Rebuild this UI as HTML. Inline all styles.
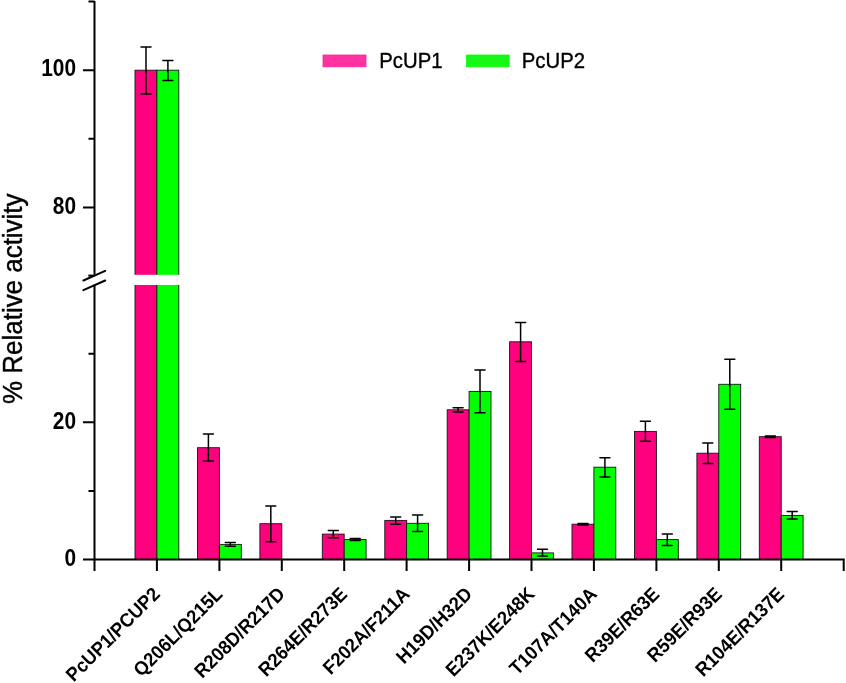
<!DOCTYPE html>
<html lang="en"><head><meta charset="utf-8"><title>Relative activity</title>
<style>html,body{margin:0;padding:0;background:#fff;}body{width:846px;height:683px;overflow:hidden;}svg{display:block;}text{font-family:"Liberation Sans",Arial,sans-serif;fill:#000;}.b{font-weight:bold;}</style>
</head><body>
<svg width="846" height="683" viewBox="0 0 846 683">
<rect width="846" height="683" fill="#fff"/>
<g stroke="#151515" stroke-width="0.9">
<rect x="135.0" y="70.2" width="21.9" height="489.3" fill="#ff007f"/>
<rect x="156.9" y="70.2" width="21.9" height="489.3" fill="#00ff00"/>
<rect x="197.5" y="447.7" width="21.9" height="111.8" fill="#ff007f"/>
<rect x="219.4" y="544.4" width="21.9" height="15.1" fill="#00ff00"/>
<rect x="259.9" y="523.7" width="21.9" height="35.8" fill="#ff007f"/>
<rect x="322.3" y="534.1" width="21.9" height="25.4" fill="#ff007f"/>
<rect x="344.2" y="539.6" width="21.9" height="19.9" fill="#00ff00"/>
<rect x="384.8" y="520.4" width="21.9" height="39.1" fill="#ff007f"/>
<rect x="406.6" y="523.3" width="21.9" height="36.2" fill="#00ff00"/>
<rect x="447.2" y="409.8" width="21.9" height="149.7" fill="#ff007f"/>
<rect x="469.1" y="391.4" width="21.9" height="168.1" fill="#00ff00"/>
<rect x="509.6" y="341.8" width="21.9" height="217.7" fill="#ff007f"/>
<rect x="531.5" y="552.9" width="21.9" height="6.6" fill="#00ff00"/>
<rect x="572.0" y="524.2" width="21.9" height="35.3" fill="#ff007f"/>
<rect x="593.9" y="467.2" width="21.9" height="92.3" fill="#00ff00"/>
<rect x="634.5" y="431.4" width="21.9" height="128.1" fill="#ff007f"/>
<rect x="656.4" y="539.6" width="21.9" height="19.9" fill="#00ff00"/>
<rect x="696.9" y="453.2" width="21.9" height="106.3" fill="#ff007f"/>
<rect x="718.8" y="384.3" width="21.9" height="175.2" fill="#00ff00"/>
<rect x="759.3" y="436.7" width="21.9" height="122.8" fill="#ff007f"/>
<rect x="781.2" y="515.4" width="21.9" height="44.1" fill="#00ff00"/>
</g>
<rect x="130" y="274.8" width="55" height="10.2" fill="#fff"/>
<g stroke="#000" stroke-width="1.5" fill="none" stroke-linecap="round">
<path d="M141.0 46.9H151.0M141.0 93.9H151.0M146.0 46.9V93.9"/>
<path d="M162.9 60.6H172.9M162.9 80.4H172.9M167.9 60.6V80.4"/>
<path d="M203.4 434.0H213.4M203.4 460.9H213.4M208.4 434.0V460.9"/>
<path d="M225.3 542.6H235.3M225.3 546.2H235.3M230.3 542.6V546.2"/>
<path d="M265.8 506.0H275.8M265.8 541.7H275.8M270.8 506.0V541.7"/>
<path d="M328.3 530.6H338.3M328.3 537.7H338.3M333.3 530.6V537.7"/>
<path d="M350.2 538.6H360.2M350.2 540.5H360.2M355.2 538.6V540.5"/>
<path d="M390.7 516.9H400.7M390.7 524.2H400.7M395.7 516.9V524.2"/>
<path d="M412.6 515.0H422.6M412.6 531.5H422.6M417.6 515.0V531.5"/>
<path d="M453.1 407.8H463.1M453.1 411.9H463.1M458.1 407.8V411.9"/>
<path d="M475.0 370.1H485.0M475.0 412.7H485.0M480.0 370.1V412.7"/>
<path d="M515.6 322.5H525.6M515.6 361.5H525.6M520.6 322.5V361.5"/>
<path d="M537.5 549.2H547.5M537.5 556.1H547.5M542.5 549.2V556.1"/>
<path d="M578.0 523.4H588.0M578.0 525.0H588.0M583.0 523.4V525.0"/>
<path d="M599.9 457.8H609.9M599.9 477.0H609.9M604.9 457.8V477.0"/>
<path d="M640.4 421.2H650.4M640.4 441.2H650.4M645.4 421.2V441.2"/>
<path d="M662.3 534.0H672.3M662.3 545.6H672.3M667.3 534.0V545.6"/>
<path d="M702.8 443.0H712.8M702.8 463.4H712.8M707.8 443.0V463.4"/>
<path d="M724.8 359.3H734.8M724.8 409.2H734.8M729.8 359.3V409.2"/>
<path d="M765.3 436.1H775.3M765.3 437.4H775.3M770.3 436.1V437.4"/>
<path d="M787.2 511.5H797.2M787.2 518.9H797.2M792.2 511.5V518.9"/>
</g>
<g stroke="#000" stroke-width="2" fill="none">
<path d="M94.5 1V274.6M94.5 285.2V560.5"/>
<path d="M83 559.5H844.7"/>
<path d="M83 70.2H94.5M83 207.4H94.5M83 422.3H94.5"/>
<path d="M88.5 1.6H94.5M88.5 138.8H94.5M88.5 490.9H94.5M88.5 353.7H94.5"/>
<path d="M94.5 559.5V571.1M156.9 559.5V571.1M219.4 559.5V571.1M281.8 559.5V571.1M344.2 559.5V571.1M406.6 559.5V571.1M469.1 559.5V571.1M531.5 559.5V571.1M593.9 559.5V571.1M656.4 559.5V571.1M718.8 559.5V571.1M781.2 559.5V571.1M843.7 559.5V571.1"/>
<path stroke-linecap="round" d="M83.4 280.5L105.2 270.9M83.4 290.2L105.2 280.5"/>
<path d="M88.3 275.6H94.5"/>
</g>
<g class="b" font-size="20.9" text-anchor="end">
<text transform="translate(76.1 76.4) scale(1 1.12)">100</text>
<text transform="translate(76.1 213.6) scale(1 1.12)">80</text>
<text transform="translate(76.1 428.5) scale(1 1.12)">20</text>
<text transform="translate(76.1 565.7) scale(1 1.12)">0</text>
</g>
<text font-size="27.1" text-anchor="middle" transform="translate(22.1 298.7) rotate(-90) scale(0.958 1)" stroke="#000" stroke-width="0.4">% Relative activity</text>
<rect x="323" y="55" width="43" height="11.8" fill="#ff339f" stroke="#ff2294" stroke-width="0.8"/>
<rect x="466.5" y="55" width="42.7" height="11.8" fill="#15f915" stroke="#0afc0a" stroke-width="0.8"/>
<text font-size="20.3" transform="translate(379.3 67.9) scale(1 1.065)" stroke="#000" stroke-width="0.35">PcUP1</text>
<text font-size="20.3" transform="translate(521.8 67.9) scale(1 1.065)" stroke="#000" stroke-width="0.35">PcUP2</text>
<g class="b" font-size="18.2" text-anchor="end">
<text transform="translate(161.1 595.3) rotate(-45) scale(1 1.06)">PcUP1/PCUP2</text>
<text transform="translate(223.6 595.3) rotate(-45) scale(1 1.06)">Q206L/Q215L</text>
<text transform="translate(286.0 595.3) rotate(-45) scale(1 1.06)">R208D/R217D</text>
<text transform="translate(348.4 595.3) rotate(-45) scale(1 1.06)">R264E/R273E</text>
<text transform="translate(410.8 595.3) rotate(-45) scale(1 1.06)">F202A/F211A</text>
<text transform="translate(473.3 595.3) rotate(-45) scale(1 1.06)">H19D/H32D</text>
<text transform="translate(535.7 595.3) rotate(-45) scale(1 1.06)">E237K/E248K</text>
<text transform="translate(598.1 595.3) rotate(-45) scale(1 1.06)">T107A/T140A</text>
<text transform="translate(660.6 595.3) rotate(-45) scale(1 1.06)">R39E/R63E</text>
<text transform="translate(723.0 595.3) rotate(-45) scale(1 1.06)">R59E/R93E</text>
<text transform="translate(785.4 595.3) rotate(-45) scale(1 1.06)">R104E/R137E</text>
</g>
</svg>
</body></html>
